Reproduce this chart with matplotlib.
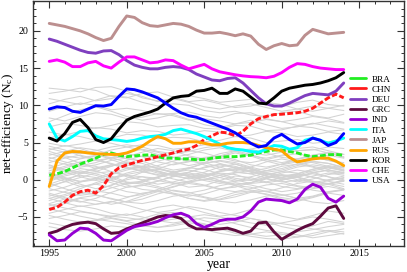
import matplotlib
matplotlib.use("Agg")
import matplotlib.pyplot as plt
from matplotlib.ticker import MultipleLocator

plt.rcParams['font.family'] = ['Liberation Serif', 'DejaVu Serif']
plt.rcParams['mathtext.fontset'] = 'custom'
plt.rcParams['mathtext.rm'] = 'Liberation Serif'
plt.rcParams['mathtext.it'] = 'Liberation Serif'

# half-year time grid for the highlighted countries
years_half = [1995 + 0.5 * i for i in range(39)]
years = list(range(1995, 2015))

countries = ["BRA", "CHN", "DEU", "GRC", "IND", "ITA", "JAP", "RUS", "KOR", "CHE", "USA"]
colors = ["#22ee22", "#ff1a1a", "#7f3fbf", "#5e0a3e", "#9400d3", "#00ffff",
          "#bc8f8f", "#ffa500", "#000000", "#ff00ff", "#0000ff"]

BRA = [0.6, 0.8, 1.1, 1.6, 2.1, 2.5, 2.9, 3.4, 3.6, 3.3, 3.1, 3.2, 3.3, 3.35, 3.1, 2.9, 2.9, 2.8, 2.8, 2.7,
       2.7, 2.9, 3.0, 3.1, 3.1, 3.2, 3.3, 3.6, 3.8, 4.0, 4.0, 3.8, 3.6, 3.3, 3.1, 3.2, 3.35, 3.4, 3.3]
CHN = [-4.0, -3.7, -3.0, -2.1, -1.6, -1.4, -1.8, -0.8, 0.8, 1.6, 2.0, 2.3, 2.6, 2.8, 3.1, 3.35, 3.6, 3.9, 4.1, 4.6,
       5.4, 5.9, 6.4, 6.3, 5.9, 6.5, 7.5, 8.2, 8.5, 8.75, 8.8, 8.9, 9.0, 9.2, 9.6, 10.3, 11.0, 11.5, 11.0]
DEU = [18.9, 18.6, 18.2, 17.8, 17.4, 17.1, 17.0, 17.3, 17.35, 16.8, 16.0, 15.4, 15.1, 14.9, 14.9, 15.1, 15.2, 15.1, 14.8, 14.2,
       13.8, 13.4, 13.3, 13.6, 13.7, 13.0, 12.0, 11.0, 10.2, 9.9, 9.9, 10.3, 10.8, 11.3, 11.6, 11.5, 11.4, 11.9, 13.0]
GRC = [-7.2, -6.9, -6.4, -6.0, -5.8, -5.7, -5.9, -6.6, -7.2, -7.1, -6.6, -6.2, -5.8, -5.4, -5.0, -4.8, -4.9, -5.2, -6.1, -6.6,
       -6.6, -6.7, -6.6, -6.5, -6.8, -7.2, -6.9, -5.8, -5.7, -7.0, -8.0, -7.4, -6.8, -6.3, -5.9, -4.9, -3.8, -3.5, -5.2]
IND = [-7.4, -8.2, -8.1, -7.2, -6.5, -6.6, -7.2, -8.1, -8.2, -7.5, -6.8, -6.3, -6.1, -5.9, -5.6, -5.1, -4.7, -4.5, -4.9, -5.9,
       -6.4, -6.0, -5.5, -5.3, -5.3, -5.0, -4.2, -3.0, -2.6, -2.7, -2.8, -3.1, -2.6, -1.3, -0.6, -1.0, -2.5, -3.0, -2.2]
ITA = [7.5, 5.6, 5.2, 5.8, 6.5, 6.6, 5.9, 5.5, 5.4, 5.3, 5.15, 5.3, 5.6, 5.8, 5.9, 6.1, 6.6, 6.8, 6.5, 6.2,
       5.8, 5.3, 4.8, 4.3, 4.1, 4.0, 3.8, 3.7, 4.1, 4.6, 4.5, 4.1, 4.3, 5.3, 5.6, 5.3, 4.9, 5.2, 5.6]
JAP = [21.0, 20.8, 20.6, 20.3, 20.0, 19.6, 19.1, 18.7, 19.0, 20.6, 22.0, 21.8, 21.1, 20.7, 20.6, 20.8, 21.0, 20.9, 20.6, 20.1,
       19.7, 19.7, 19.8, 19.6, 19.35, 19.6, 19.3, 18.2, 17.5, 18.0, 18.3, 18.0, 18.1, 19.4, 20.2, 19.9, 19.6, 19.7, 19.8]
RUS = [-0.9, 2.5, 3.6, 3.8, 3.75, 3.6, 3.5, 3.45, 3.4, 3.4, 3.6, 4.0, 4.5, 5.2, 5.8, 5.5, 4.9, 4.9, 5.1, 5.1,
       4.9, 4.7, 4.7, 4.9, 5.0, 5.0, 4.9, 4.6, 4.3, 4.1, 3.9, 3.0, 2.4, 2.6, 2.8, 2.9, 2.9, 2.5, 1.9]
KOR = [5.6, 5.2, 6.2, 7.7, 8.1, 7.0, 5.4, 5.0, 5.5, 6.8, 8.0, 8.5, 8.8, 9.1, 9.5, 10.3, 11.0, 11.2, 11.3, 11.9,
       12.0, 12.3, 11.6, 11.6, 12.2, 11.9, 11.1, 10.3, 10.2, 11.0, 11.9, 12.3, 12.5, 12.7, 12.8, 13.0, 13.3, 13.7, 14.4]
CHE = [15.9, 16.1, 15.8, 15.2, 15.2, 15.7, 15.9, 15.3, 15.0, 15.8, 16.5, 16.5, 16.1, 15.7, 15.8, 16.1, 16.0, 15.4, 14.9, 15.2,
       15.5, 14.9, 14.5, 14.3, 14.1, 13.95, 13.85, 13.8, 13.7, 13.9, 14.4, 15.1, 15.6, 15.5, 15.2, 15.0, 14.9, 14.8, 14.8]
USA = [9.5, 9.8, 9.7, 9.2, 9.05, 9.5, 9.95, 9.9, 10.1, 11.2, 12.2, 12.1, 11.8, 11.4, 11.0, 10.3, 9.6, 9.0, 8.6, 8.4,
       8.0, 7.6, 7.2, 6.8, 6.3, 5.6, 4.9, 4.4, 4.6, 5.6, 6.1, 5.4, 4.8, 5.0, 5.6, 5.3, 4.6, 5.0, 6.2]

series = [BRA, CHN, DEU, GRC, IND, ITA, JAP, RUS, KOR, CHE, USA]

# background countries (yearly values, 1995-2014)
gray_lines = [
    [12.3, 12.1, 11.8, 12.4, 12.5, 11.9, 11.0, 10.6, 10.9, 10.4, 9.8, 9.5, 9.9, 10.2, 9.7, 9.2, 9.5, 9.9, 9.6, 9.3],
    [11.6, 11.9, 12.3, 12.0, 11.2, 11.0, 11.6, 11.8, 11.1, 10.5, 10.7, 10.2, 9.7, 9.9, 10.4, 10.1, 9.5, 9.2, 9.6, 10.0],
    [10.9, 10.5, 10.1, 10.7, 11.3, 11.1, 10.4, 9.9, 10.2, 10.0, 9.3, 9.0, 9.2, 8.7, 8.5, 9.0, 9.2, 8.6, 8.3, 8.8],
    [9.2, 9.8, 10.3, 10.0, 9.4, 9.6, 9.3, 8.8, 8.9, 9.1, 8.6, 8.3, 8.9, 9.0, 8.2, 7.8, 8.1, 8.5, 8.2, 7.7],
    [8.3, 7.9, 8.5, 9.0, 8.8, 8.2, 8.4, 8.9, 8.6, 8.0, 8.2, 7.9, 7.5, 7.7, 8.1, 7.8, 7.3, 7.5, 7.9, 7.6],
    [7.1, 7.6, 7.3, 6.9, 7.3, 7.8, 7.6, 7.1, 7.3, 7.4, 6.9, 6.8, 7.3, 7.2, 6.6, 6.7, 7.2, 7.0, 6.5, 6.7],
    [6.4, 6.0, 6.5, 7.0, 6.8, 6.3, 6.6, 6.5, 6.0, 6.2, 6.6, 6.4, 5.8, 6.0, 6.5, 6.3, 5.8, 6.0, 6.4, 6.1],
    [5.6, 6.1, 5.8, 5.3, 5.6, 6.1, 6.0, 5.5, 5.7, 5.6, 5.1, 5.3, 5.8, 5.6, 5.0, 5.2, 5.4, 4.9, 5.1, 5.5],
    [4.9, 4.5, 4.8, 5.2, 4.9, 4.4, 4.7, 4.6, 4.1, 4.3, 4.7, 4.5, 4.0, 4.1, 4.6, 4.4, 3.9, 4.0, 4.4, 4.2],
    [10.2, 10.8, 11.2, 10.6, 10.9, 11.6, 11.2, 10.5, 10.8, 11.3, 10.9, 10.4, 10.6, 10.8, 10.2, 9.8, 10.4, 10.7, 10.1, 9.9],
    [7.8, 8.6, 9.4, 9.8, 9.2, 8.5, 8.0, 8.3, 8.8, 8.1, 7.4, 7.0, 7.5, 8.0, 7.4, 6.9, 7.1, 7.6, 7.2, 6.8],
    [3.5, 3.0, 2.2, 1.5, 1.8, 2.6, 3.2, 3.0, 2.4, 1.9, 2.3, 3.1, 3.6, 3.2, 2.5, 2.0, 2.4, 3.0, 3.3, 2.9],
    [-1.0, -0.2, 0.8, 1.6, 2.0, 1.7, 1.1, 0.6, 0.9, 1.5, 2.2, 2.5, 2.1, 1.4, 1.0, 1.3, 1.9, 2.4, 2.2, 1.7],
    [2.8, 3.4, 3.9, 3.5, 2.7, 2.0, 1.6, 1.9, 2.5, 3.0, 2.8, 2.2, 1.6, 1.2, 1.5, 2.1, 2.6, 2.3, 1.8, 1.4],
    [0.5, 0.1, -0.6, -1.2, -0.8, 0.2, 1.0, 1.4, 1.1, 0.5, 0.0, 0.3, 0.9, 1.3, 0.8, 0.2, -0.3, 0.1, 0.7, 1.0],
    [-2.5, -2.0, -1.2, -0.4, 0.3, 0.6, 0.4, -0.1, -0.5, -0.2, 0.4, 0.9, 0.7, 0.1, -0.4, -0.1, 0.5, 0.8, 0.4, -0.2],
    [1.5, 2.2, 2.8, 3.2, 3.0, 2.3, 1.5, 0.9, 0.6, 1.0, 1.7, 2.1, 1.8, 1.1, 0.5, 0.3, 0.8, 1.4, 1.7, 1.3],
    [4.5, 4.0, 3.2, 2.6, 2.9, 3.6, 4.1, 3.7, 3.0, 2.5, 2.8, 3.5, 3.9, 3.4, 2.7, 2.3, 2.7, 3.3, 3.6, 3.1],
    [-0.5, -1.2, -1.8, -1.5, -0.7, 0.0, 0.4, 0.2, -0.4, -1.0, -0.8, -0.1, 0.5, 0.3, -0.3, -0.9, -1.2, -0.7, -0.1, 0.2],
    [2.0, 1.3, 0.8, 1.1, 1.8, 2.4, 2.2, 1.5, 0.9, 0.6, 1.0, 1.7, 2.1, 1.6, 0.8, 0.3, 0.6, 1.2, 1.6, 1.2],
    [-3.2, -2.6, -1.9, -1.5, -1.8, -2.3, -2.0, -1.3, -0.6, -0.3, -0.7, -1.2, -1.0, -0.4, 0.1, -0.2, -0.8, -1.1, -0.6, -0.1],
    [3.0, 2.4, 1.9, 2.3, 3.0, 3.5, 3.1, 2.4, 2.0, 2.4, 3.0, 3.2, 2.7, 2.0, 1.7, 2.1, 2.8, 3.1, 2.6, 2.1],
    [0.9, 1.6, 2.1, 1.8, 1.1, 0.4, 0.0, 0.3, 1.0, 1.6, 1.4, 0.8, 0.2, -0.1, 0.3, 0.9, 1.3, 1.0, 0.4, 0.0],
    [-1.5, -1.0, -0.3, 0.2, -0.1, -0.7, -1.3, -1.5, -1.0, -0.3, 0.1, -0.2, -0.8, -1.4, -1.6, -1.1, -0.5, -0.2, -0.6, -1.2],
    [1.0, 0.3, -0.3, 0.0, 0.7, 1.3, 1.8, 1.6, 1.0, 0.4, 0.6, 1.2, 1.7, 1.5, 0.9, 0.5, 0.8, 1.4, 1.9, 1.6],
    [-2.0, -2.6, -3.0, -2.5, -1.7, -1.0, -0.7, -1.1, -1.8, -2.2, -1.9, -1.3, -0.8, -1.0, -1.6, -2.1, -1.8, -1.2, -0.9, -1.3],
    [4.0, 4.6, 4.2, 3.5, 2.9, 3.1, 3.7, 4.2, 3.9, 3.2, 2.8, 3.2, 3.8, 4.1, 3.6, 3.0, 2.8, 3.3, 3.7, 3.4],
    [0.2, 0.9, 1.5, 1.2, 0.5, -0.3, -0.6, -0.2, 0.5, 0.9, 0.6, -0.1, -0.6, -0.4, 0.2, 0.7, 0.4, -0.2, -0.5, -0.1],
    [-3.8, -3.2, -2.5, -2.8, -3.3, -2.9, -2.2, -1.6, -1.9, -2.5, -2.8, -2.3, -1.7, -1.5, -2.0, -2.6, -2.9, -2.4, -1.8, -2.1],
    [2.3, 2.9, 3.3, 2.8, 2.1, 1.5, 1.8, 2.5, 3.0, 2.7, 2.0, 1.4, 1.2, 1.7, 2.4, 2.8, 2.4, 1.8, 1.4, 1.9],
    [-0.8, -0.3, 0.3, 0.9, 1.1, 0.6, -0.1, -0.6, -0.3, 0.3, 0.8, 0.6, 0.0, -0.5, -0.3, 0.3, 0.7, 0.4, -0.2, -0.6],
    [1.7, 1.1, 0.4, -0.1, 0.2, 0.9, 1.4, 1.2, 0.6, 0.1, 0.4, 1.1, 1.5, 1.2, 0.5, 0.0, 0.3, 0.9, 1.3, 0.9],
    [-2.8, -2.2, -1.6, -2.0, -2.6, -3.0, -2.6, -1.9, -1.4, -1.7, -2.3, -2.7, -2.3, -1.7, -1.5, -2.0, -2.5, -2.2, -1.6, -1.3],
    [3.8, 3.2, 2.9, 3.3, 4.0, 4.4, 4.0, 3.4, 3.0, 3.4, 4.0, 4.3, 3.8, 3.2, 2.9, 3.3, 3.9, 4.1, 3.6, 3.0],
    [-1.8, -2.4, -2.9, -3.3, -3.0, -2.4, -1.8, -1.5, -1.9, -2.5, -2.9, -2.6, -2.0, -1.6, -1.9, -2.4, -2.7, -2.3, -1.7, -1.4],
    [0.0, 0.7, 1.2, 0.8, 0.2, -0.4, -0.2, 0.4, 1.0, 1.3, 0.9, 0.3, -0.2, 0.0, 0.6, 1.1, 0.9, 0.3, -0.1, 0.3],
    [-4.5, -4.0, -3.5, -3.9, -4.5, -4.8, -4.3, -3.7, -3.4, -3.8, -4.4, -4.9, -4.6, -4.0, -4.2, -4.9, -5.3, -4.8, -4.2, -4.5],
    [-5.2, -4.8, -4.3, -4.6, -5.1, -5.5, -5.2, -4.6, -4.4, -4.9, -5.5, -6.0, -5.7, -5.2, -5.6, -6.3, -6.7, -6.2, -5.6, -5.9],
    [-3.9, -4.4, -4.9, -5.3, -5.6, -5.9, -6.2, -6.4, -6.2, -5.8, -6.0, -6.5, -7.0, -7.3, -7.6, -7.4, -7.0, -6.7, -6.3, -6.0],
    [-5.8, -6.2, -6.0, -5.5, -5.2, -5.6, -6.1, -6.4, -6.0, -5.6, -5.9, -6.6, -7.2, -7.6, -7.9, -8.0, -7.7, -7.2, -6.8, -7.0],
    [-4.8, -5.3, -5.7, -5.4, -4.9, -4.6, -5.0, -5.5, -5.8, -5.5, -5.1, -5.3, -5.9, -6.4, -6.8, -7.1, -7.4, -7.8, -7.5, -7.2],
    [-3.3, -3.8, -4.2, -4.6, -4.9, -5.1, -5.4, -5.6, -5.3, -5.0, -4.7, -5.0, -5.4, -5.8, -6.1, -5.8, -5.4, -5.0, -5.3, -5.7],
    [-2.5, -3.1, -3.6, -3.3, -2.9, -3.4, -4.0, -4.4, -4.1, -3.6, -3.9, -4.4, -4.8, -5.2, -5.6, -5.9, -6.2, -6.6, -6.9, -7.3],
    [-6.3, -6.7, -6.9, -6.6, -6.2, -6.4, -6.8, -7.0, -6.8, -6.5, -6.7, -7.2, -7.5, -7.3, -7.0, -7.3, -7.7, -7.5, -7.0, -6.6],
    [2.6, 2.1, 1.7, 2.0, 2.6, 2.9, 2.5, 1.8, 1.3, 1.6, 2.2, 2.6, 2.3, 1.7, 1.2, 1.5, 2.1, 2.5, 2.2, 1.6],
    [-0.2, 0.5, 1.0, 0.6, -0.1, -0.6, -0.3, 0.3, 0.8, 0.5, -0.1, -0.5, -0.2, 0.4, 0.9, 0.6, 0.0, -0.4, 0.0, 0.5],
    [1.2, 1.8, 2.4, 2.6, 2.2, 1.6, 1.2, 1.5, 2.1, 2.5, 2.3, 1.7, 1.1, 0.8, 1.2, 1.8, 2.1, 1.7, 1.1, 0.8],
    [-1.2, -1.7, -2.1, -1.8, -1.1, -0.5, -0.4, -0.9, -1.5, -1.8, -1.4, -0.8, -0.4, -0.7, -1.2, -1.6, -1.3, -0.8, -0.5, -0.9],
    [3.3, 3.8, 4.3, 4.0, 3.4, 2.8, 2.5, 2.9, 3.5, 3.9, 3.6, 3.0, 2.5, 2.3, 2.7, 3.2, 3.5, 3.1, 2.6, 2.3],
    [0.4, -0.2, -0.9, -0.6, 0.0, 0.7, 1.1, 0.7, 0.1, -0.3, 0.0, 0.6, 1.0, 0.8, 0.2, -0.3, -0.1, 0.5, 0.9, 0.6],
    [-2.2, -1.6, -0.9, -0.6, -1.0, -1.6, -1.9, -1.5, -0.9, -0.5, -0.8, -1.3, -1.6, -1.2, -0.7, -0.5, -0.9, -1.4, -1.7, -1.3],
    [1.9, 1.4, 1.0, 1.4, 2.0, 2.2, 1.8, 1.1, 0.7, 1.0, 1.6, 2.0, 1.6, 1.0, 0.7, 1.1, 1.7, 2.0, 1.7, 1.2],
    [4.2, 3.7, 3.5, 3.9, 4.4, 4.7, 4.4, 3.8, 3.5, 3.8, 4.3, 4.6, 4.2, 3.6, 3.3, 3.7, 4.2, 4.4, 3.9, 3.4],
    [-0.6, 0.1, 0.6, 0.3, -0.4, -1.0, -0.8, -0.2, 0.4, 0.7, 0.3, -0.3, -0.7, -0.4, 0.2, 0.6, 0.3, -0.3, -0.6, -0.2],
    [-3.5, -3.0, -2.4, -2.1, -2.5, -3.0, -3.2, -2.8, -2.2, -2.0, -2.4, -2.9, -3.1, -2.7, -2.2, -2.0, -2.5, -3.0, -3.2, -2.8],
    [0.8, 0.2, -0.2, 0.2, 0.9, 1.5, 1.6, 1.1, 0.5, 0.2, 0.5, 1.1, 1.4, 1.1, 0.5, 0.1, 0.4, 1.0, 1.3, 1.0],
]

fig = plt.figure(figsize=(4.07, 2.72), dpi=100)
ax = fig.add_axes([0.081, 0.0956, 0.912, 0.9004])

for g in gray_lines:
    ax.plot(years, g, color="#d3d3d3", lw=0.75, zorder=1)

for name, col, vals in zip(countries, colors, series):
    ls = (0, (2, 0.8)) if name in ("BRA", "CHN") else "-"
    ax.plot(years_half, vals, color=col, lw=2.1, ls=ls, label=name, zorder=3,
            solid_capstyle="round", solid_joinstyle="round")

ax.set_xlim(1993.95, 2017.9)
ax.set_ylim(-8.9, 24.0)
ax.xaxis.set_major_locator(MultipleLocator(5))
ax.xaxis.set_minor_locator(MultipleLocator(1))
ax.yaxis.set_major_locator(MultipleLocator(5))
ax.yaxis.set_minor_locator(MultipleLocator(1))
ax.tick_params(which="both", direction="in", top=True, right=True, labelsize=7.2, colors="#333333",
               labelcolor="black")
ax.tick_params(which="major", length=5, width=0.8)
ax.tick_params(which="minor", length=2.5, width=0.7)
ax.tick_params(axis="x", which="major", pad=2)
for s in ax.spines.values():
    s.set_color("#333333")
    s.set_linewidth(1.0)

ax.set_xlabel("year", fontsize=10)
ax.xaxis.set_label_coords(0.5, -0.05)
ax.set_ylabel("net-efficiency (N$_c$)", fontsize=9.5)
ax.yaxis.set_label_coords(-0.046, 0.5)

leg = ax.legend(loc="upper left", bbox_to_anchor=(0.853, 0.698), frameon=False, fontsize=6.7,
                handlelength=1.8, handletextpad=0.55, labelspacing=0.18, borderpad=0, borderaxespad=0)
for h in leg.get_lines():
    h.set_linestyle("-")
    h.set_linewidth(2.0)

fig.savefig("out.png", dpi=100)
